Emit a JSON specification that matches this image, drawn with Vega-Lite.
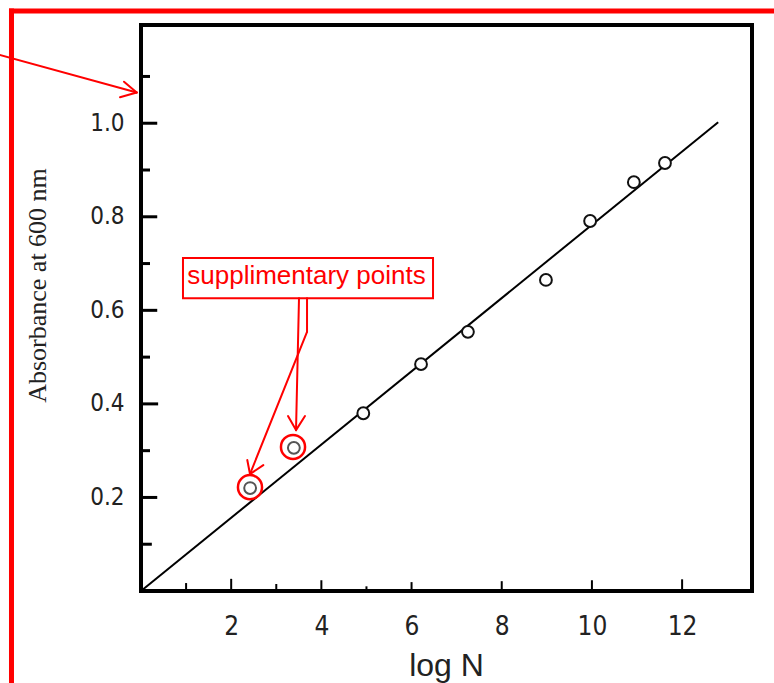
{
  "$schema": "https://vega.github.io/schema/vega-lite/v6.json",
  "width": 611,
  "height": 566,
  "autosize": {"type": "none"},
  "padding": {"left": 141, "top": 25, "right": 22, "bottom": 92},
  "background": "white",
  "config": {"view": {"stroke": "black", "strokeWidth": 4}},
  "datasets": {
    "points": [
      {"x": 2.42, "y": 0.220, "kind": "supplementary"},
      {"x": 3.39, "y": 0.306, "kind": "supplementary"},
      {"x": 4.93, "y": 0.380, "kind": "measured"},
      {"x": 6.21, "y": 0.485, "kind": "measured"},
      {"x": 7.25, "y": 0.554, "kind": "measured"},
      {"x": 8.98, "y": 0.665, "kind": "measured"},
      {"x": 9.96, "y": 0.791, "kind": "measured"},
      {"x": 10.93, "y": 0.874, "kind": "measured"},
      {"x": 11.62, "y": 0.915, "kind": "measured"}
    ],
    "fit": [
      {"x": 0, "y": 0},
      {"x": 12.8, "y": 1.002}
    ],
    "yticks": [
      {"x": 0, "x2": 0.24, "y": 0.1},
      {"x": 0, "x2": 0.36, "y": 0.2},
      {"x": 0, "x2": 0.2, "y": 0.3},
      {"x": 0, "x2": 0.38, "y": 0.4},
      {"x": 0, "x2": 0.2, "y": 0.5},
      {"x": 0, "x2": 0.36, "y": 0.6},
      {"x": 0, "x2": 0.2, "y": 0.7},
      {"x": 0, "x2": 0.36, "y": 0.8},
      {"x": 0, "x2": 0.2, "y": 0.9},
      {"x": 0, "x2": 0.36, "y": 1.0},
      {"x": 0, "x2": 0.2, "y": 1.1}
    ],
    "xticks": [
      {"x": 1, "y": 0, "y2": 0.017},
      {"x": 2, "y": 0, "y2": 0.026},
      {"x": 3, "y": 0, "y2": 0.015},
      {"x": 4, "y": 0, "y2": 0.023},
      {"x": 5, "y": 0, "y2": 0.010},
      {"x": 6, "y": 0, "y2": 0.019},
      {"x": 8, "y": 0, "y2": 0.021},
      {"x": 10, "y": 0, "y2": 0.023},
      {"x": 12, "y": 0, "y2": 0.025}
    ],
    "frame": [
      {"x": -2.872, "y": 1.240, "x2": -2.872, "y2": -0.23},
      {"x": -2.872, "y": 1.240, "x2": 14.3, "y2": 1.240}
    ],
    "arrows": [
      {"x": -3.19, "y": 1.1474, "x2": -0.095, "y2": 1.0656},
      {"x": -0.377, "y": 1.0887, "x2": -0.095, "y2": 1.0656},
      {"x": -0.466, "y": 1.0554, "x2": -0.095, "y2": 1.0656},
      {"x": 3.504, "y": 0.626, "x2": 3.438, "y2": 0.344},
      {"x": 3.260, "y": 0.374, "x2": 3.438, "y2": 0.344},
      {"x": 3.637, "y": 0.374, "x2": 3.438, "y2": 0.344},
      {"x": 3.682, "y": 0.626, "x2": 3.682, "y2": 0.554},
      {"x": 3.682, "y": 0.554, "x2": 2.417, "y2": 0.250},
      {"x": 2.357, "y": 0.280, "x2": 2.417, "y2": 0.250},
      {"x": 2.712, "y": 0.269, "x2": 2.417, "y2": 0.250}
    ],
    "rings": [
      {"x": 2.417, "y": 0.222},
      {"x": 3.371, "y": 0.308}
    ],
    "box": [
      {"x": 0.931, "x2": 6.476, "y": 0.626, "y2": 0.712}
    ],
    "label": [
      {"x": 3.670, "y": 0.656, "text": "supplimentary points"}
    ]
  },
  "encoding": {
    "x": {
      "field": "x",
      "type": "quantitative",
      "scale": {"domain": [0, 13.55], "nice": false, "zero": false},
      "axis": {
        "values": [2, 4, 6, 8, 10, 12],
        "title": "log N",
        "grid": false,
        "domain": false,
        "ticks": false,
        "tickSize": 0,
        "labelFont": "Liberation Sans Narrow, Arial Narrow, DejaVu Sans Condensed, sans-serif",
        "labelFontSize": 26,
        "labelColor": "#222",
        "labelPadding": 22,
        "titleFont": "Liberation Sans, Arial, sans-serif",
        "titleFontSize": 32,
        "titleFontWeight": "normal",
        "titleColor": "#222",
        "titleBaseline": "alphabetic",
        "titleX": 305,
        "titleY": 84
      }
    },
    "y": {
      "field": "y",
      "type": "quantitative",
      "scale": {"domain": [0, 1.21], "nice": false, "zero": false},
      "axis": {
        "values": [0.2, 0.4, 0.6, 0.8, 1.0],
        "format": ".1f",
        "title": "Absorbance at 600 nm",
        "grid": false,
        "domain": false,
        "ticks": false,
        "tickSize": 0,
        "labelFont": "Liberation Sans Narrow, Arial Narrow, DejaVu Sans Condensed, sans-serif",
        "labelFontSize": 24,
        "labelColor": "#222",
        "labelPadding": 17,
        "titleFont": "Liberation Serif, Times New Roman, serif",
        "titleFontSize": 26,
        "titleFontWeight": "normal",
        "titleColor": "#222",
        "titleBaseline": "middle",
        "titleAngle": 270,
        "titleX": -104,
        "titleY": 260
      }
    }
  },
  "layer": [
    {
      "data": {"name": "frame"},
      "mark": {"type": "rule", "color": "#ff0000", "strokeWidth": 5, "strokeCap": "square"},
      "encoding": {"x2": {"field": "x2"}, "y2": {"field": "y2"}}
    },
    {
      "data": {"name": "yticks"},
      "mark": {"type": "rule", "color": "black", "strokeWidth": 3},
      "encoding": {"x2": {"field": "x2"}}
    },
    {
      "data": {"name": "xticks"},
      "mark": {"type": "rule", "color": "black", "strokeWidth": 2},
      "encoding": {"y2": {"field": "y2"}}
    },
    {
      "data": {"name": "fit"},
      "mark": {"type": "line", "color": "black", "strokeWidth": 2}
    },
    {
      "data": {"name": "points"},
      "mark": {"type": "point", "shape": "circle", "filled": true, "fill": "white", "size": 140, "strokeWidth": 2, "opacity": 1},
      "encoding": {
        "stroke": {
          "field": "kind",
          "type": "nominal",
          "scale": {"domain": ["measured", "supplementary"], "range": ["#111111", "#555555"]},
          "legend": null
        }
      }
    },
    {
      "data": {"name": "rings"},
      "mark": {"type": "point", "shape": "circle", "filled": false, "color": "#ff0000", "size": 580, "strokeWidth": 2.5, "opacity": 1}
    },
    {
      "data": {"name": "box"},
      "mark": {"type": "rect", "fill": "white", "stroke": "#ff0000", "strokeWidth": 2},
      "encoding": {"x2": {"field": "x2"}, "y2": {"field": "y2"}}
    },
    {
      "data": {"name": "label"},
      "mark": {"type": "text", "color": "#ff0000", "font": "Liberation Sans, Arial, sans-serif", "fontSize": 26, "align": "center", "baseline": "alphabetic"},
      "encoding": {"text": {"field": "text"}}
    },
    {
      "data": {"name": "arrows"},
      "mark": {"type": "rule", "color": "#ff0000", "strokeWidth": 2, "strokeCap": "round"},
      "encoding": {"x2": {"field": "x2"}, "y2": {"field": "y2"}}
    }
  ]
}
